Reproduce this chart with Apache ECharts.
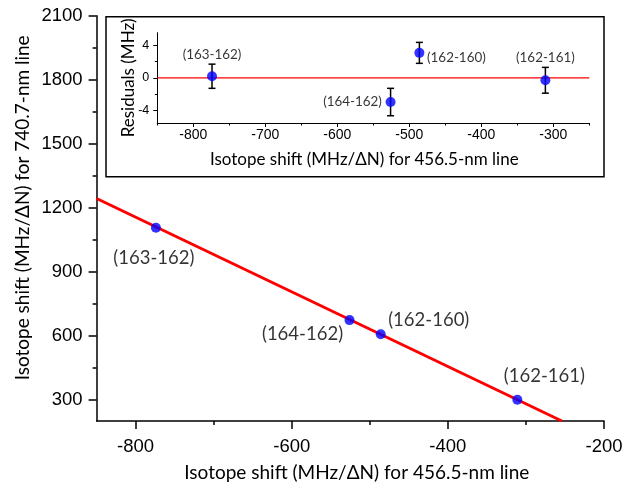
<!DOCTYPE html>
<html>
<head>
<meta charset="utf-8">
<script src="https://cdn.jsdelivr.net/npm/echarts@6/dist/echarts.min.js"></script>
<style>
html,body{margin:0;padding:0;background:#fff;}
#chart{width:634px;height:487px;}
</style>
</head>
<body>
<div id="chart"></div>
<script>
// ---- data ----
const pairLabels = ['(163-162)', '(164-162)', '(162-160)', '(162-161)'];
const shift456 = [-774, -526, -486, -311];     // MHz/ΔN, 456.5-nm line
const shift740 = [1106, 673, 607, 300];        // MHz/ΔN, 740.7-nm line
const residuals = [0.2, -3.0, 3.1, -0.3];      // MHz
const residualErr = [1.5, 1.7, 1.3, 1.6];      // MHz
const fitX = [-850, -254];
const fitY = [1243, 200];
const zeroLineX = [-850, -250];
const zeroLineY = [0, 0];

// tick values
const mainXMajor = [-800, -600, -400, -200];
const mainXMinor = [-700, -500, -300];
const mainYMajor = [300, 600, 900, 1200, 1500, 1800, 2100];
const mainYMinor = [450, 750, 1050, 1350, 1650, 1950];
const insetXMajor = [-800, -700, -600, -500, -400, -300];
const insetXMinor = [-850, -750, -650, -550, -450, -350, -250];
const insetYMajor = [-4, 0, 4];
const insetYMinor = [-2, 2];

const xTitle = 'Isotope shift (MHz/\u0394N) for 456.5-nm line';
const yTitle = 'Isotope shift (MHz/\u0394N) for 740.7-nm line';
const residTitle = 'Residuals (MHz)';

// label offsets (layout only)
const mainLabelOffsets = [[-2, 30], [-47, 14], [48, -14], [27, -24]];
const insetLabelOffsets = [[0, -22], [-38, 0], [37, 5], [0, -23]];

const numFont = 'Liberation Sans';
const textFont = 'Lato';

function majorAxis(dim, gridIndex, min, max, ticks, opts) {
  return {
    type: 'value', gridIndex, min, max,
    position: dim === 'x' ? 'bottom' : 'left',
    splitLine: {show: false},
    axisLine: {show: true, onZero: false, lineStyle: {color: '#000', width: opts.lineWidth}},
    axisTick: {show: true, customValues: ticks, length: opts.tickLen, lineStyle: {color: '#000', width: opts.lineWidth}},
    axisLabel: {show: true, customValues: ticks, margin: opts.margin, color: '#000',
      fontFamily: numFont, fontSize: opts.fontSize, formatter: v => String(v)},
    name: opts.name, nameLocation: 'middle', nameGap: opts.nameGap, nameMoveOverlap: false,
    nameTextStyle: {fontFamily: textFont, fontSize: opts.nameSize, color: '#000', padding: opts.namePadding || 0}
  };
}
function minorAxis(dim, gridIndex, min, max, ticks, len, lw) {
  return {
    type: 'value', gridIndex, min, max,
    position: dim === 'x' ? 'bottom' : 'left',
    splitLine: {show: false},
    axisLine: {show: false, onZero: false},
    axisTick: {show: true, customValues: ticks, length: len, lineStyle: {color: '#000', width: lw}},
    axisLabel: {show: false}
  };
}

const chart = echarts.init(document.getElementById('chart'), null, {renderer: 'canvas'});

const option = {
  backgroundColor: '#fff',
  animation: false,
  grid: [
    {left: 96.6, right: 30, top: 15.7, bottom: 62.7},
    {left: 157.3, right: 44.7, top: 32.7, bottom: 364}
  ],
  xAxis: [
    majorAxis('x', 0, -850, -200, mainXMajor, {lineWidth: 1.5, tickLen: 8, margin: 16, fontSize: 18.5,
      name: xTitle, nameGap: 42, nameSize: 19, namePadding: [0, 0, 0, 13]}),
    minorAxis('x', 0, -850, -200, mainXMinor, 4, 1.5),
    majorAxis('x', 1, -850, -250, insetXMajor, {lineWidth: 1, tickLen: 4, margin: 5, fontSize: 14,
      name: xTitle, nameGap: 28, nameSize: 17, namePadding: [0, 18, 0, 0]}),
    minorAxis('x', 1, -850, -250, insetXMinor, 2.5, 1)
  ],
  yAxis: [
    majorAxis('y', 0, 200, 2100, mainYMajor, {lineWidth: 1.5, tickLen: 8, margin: 14, fontSize: 18.5,
      name: yTitle, nameGap: 64, nameSize: 19, namePadding: [0, 0, 0, 21]}),
    minorAxis('y', 0, 200, 2100, mainYMinor, 4, 1.5),
    majorAxis('y', 1, -5.6, 5.6, insetYMajor, {lineWidth: 1, tickLen: 4, margin: 8, fontSize: 12.5,
      name: residTitle, nameGap: 20, nameSize: 17}),
    minorAxis('y', 1, -5.6, 5.6, insetYMinor, 2.5, 1)
  ],
  graphic: [{
    type: 'rect', z: 0,
    shape: {x: 106, y: 16.7, width: 498, height: 160},
    style: {fill: null, stroke: '#000', lineWidth: 1.5}
  }],
  series: [
    {
      type: 'line', xAxisIndex: 0, yAxisIndex: 0, z: 2,
      data: fitX.map((x, i) => [x, fitY[i]]),
      showSymbol: false, symbol: 'none',
      lineStyle: {color: '#ff0000', width: 3}
    },
    {
      type: 'scatter', xAxisIndex: 0, yAxisIndex: 0, z: 4,
      symbolSize: 10, itemStyle: {color: '#0000ff'},
      data: shift456.map((x, i) => ({
        value: [x, shift740[i]],
        label: {show: true, position: 'inside', formatter: pairLabels[i], offset: mainLabelOffsets[i],
          color: '#000', fontFamily: textFont, fontSize: 18.5}
      }))
    },
    {
      type: 'line', xAxisIndex: 2, yAxisIndex: 2, z: 2,
      data: zeroLineX.map((x, i) => [x, zeroLineY[i]]),
      showSymbol: false, symbol: 'none',
      lineStyle: {color: '#ff0000', width: 1.2}
    },
    {
      type: 'custom', xAxisIndex: 2, yAxisIndex: 2, z: 3,
      encode: {x: 0, y: 1},
      data: shift456.map((x, i) => [x, residuals[i], residualErr[i]]),
      renderItem: function (params, api) {
        const x = api.value(0), y = api.value(1), e = api.value(2);
        const top = api.coord([x, y + e]);
        const bot = api.coord([x, y - e]);
        const w = 3.5;
        const st = {stroke: '#000', lineWidth: 1.5};
        return {type: 'group', children: [
          {type: 'line', shape: {x1: top[0], y1: top[1], x2: bot[0], y2: bot[1]}, style: st},
          {type: 'line', shape: {x1: top[0] - w, y1: top[1], x2: top[0] + w, y2: top[1]}, style: st},
          {type: 'line', shape: {x1: bot[0] - w, y1: bot[1], x2: bot[0] + w, y2: bot[1]}, style: st}
        ]};
      }
    },
    {
      type: 'scatter', xAxisIndex: 2, yAxisIndex: 2, z: 4,
      symbolSize: 10, itemStyle: {color: '#0000ff'},
      data: shift456.map((x, i) => ({
        value: [x, residuals[i]],
        label: {show: true, position: 'inside', formatter: pairLabels[i], offset: insetLabelOffsets[i],
          color: '#000', fontFamily: textFont, fontSize: 13.4}
      }))
    }
  ]
};
chart.setOption(option);
</script>
</body>
</html>
